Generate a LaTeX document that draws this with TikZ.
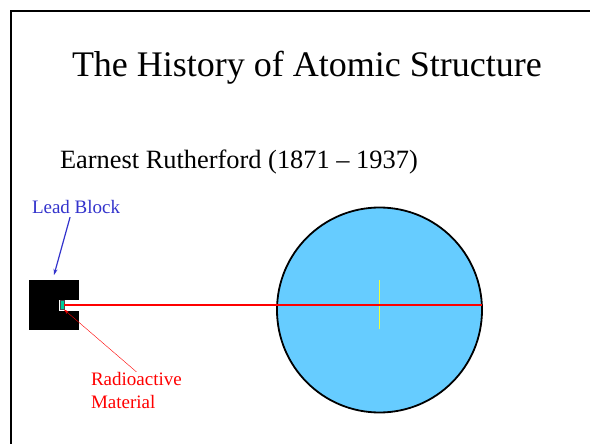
\documentclass[tikz,border=0pt]{standalone}
\usepackage{fontspec}
\setmainfont{Liberation Serif}
\usetikzlibrary{arrows.meta, positioning, calc}
\definecolor{leadblue}{RGB}{51, 51, 204}
\definecolor{foilblue}{RGB}{102, 204, 255}
\definecolor{sourcegreen}{RGB}{0, 204, 153}
\definecolor{markyellow}{RGB}{240, 255, 60}

\begin{document}
\begin{tikzpicture}[
  x=1pt, y=-1pt,
  every node/.style={inner sep=0pt, outer sep=0pt},
  heading/.style={font=\fontsize{36}{40}\selectfont, anchor=base west},
  subheading/.style={font=\fontsize{26.4}{32}\selectfont, anchor=base west},
  callout/.style={font=\fontsize{19}{23}\selectfont, align=left, anchor=base west},
  leadbox/.style={fill=black, minimum width=50pt, minimum height=50pt},
  notch/.style={fill=white, minimum width=20pt, minimum height=11pt},
  sourcebox/.style={
    fill=sourcegreen, draw=black!70, line width=0.5pt,
    minimum width=4pt, minimum height=9pt
  },
  foil/.style={circle, fill=foilblue, draw=black, line width=1.8pt, minimum size=205pt},
  beam/.style={red, line width=2.8pt},
  arrow/.style={-{Stealth[length=6pt, width=4pt]}, line width=1.2pt}
]
  \useasboundingbox (0,0) rectangle (590,444);

  % slide frame
  \draw[line width=2pt] (11,444) -- (11,11) -- (590,11);

  % titles
  \node[heading] (title) at (72,77) {The History of Atomic Structure};
  \node[subheading] (subtitle) at (60,168) {Earnest Rutherford (1871 – 1937)};

  % lead block with the source in its slot
  \node[leadbox] (block) at (54,305) {};
  \node[notch, anchor=east] (notch) at (block.east) {};
  \node[sourcebox, anchor=west] (source) at ([xshift=1pt]notch.west) {};

  % gold foil
  \node[foil] (foil) at (379.5,310) {};
  \draw[markyellow, line width=1pt] ($(foil.center)+(0,-30)$) -- ($(foil.center)+(0,19)$);

  % alpha beam
  \coordinate (beamend) at (foil.east |- source.east);
  \draw[beam] (source.east) -- (beamend);

  % labels
  \node[callout, text=leadblue] (leadlabel) at (32,213) {Lead Block};
  \node[callout, text=red] (radlabel) at (91,408) {Radioactive\\Material};

  \draw[arrow, leadblue] ([xshift=-6pt, yshift=-4pt]leadlabel.south) -- ([yshift=5pt]block.north);
  \draw[arrow, red, line width=0.4pt, -{Stealth[length=5pt, width=3pt]}] (radlabel.north) -- (source.south east);

\end{tikzpicture}
\end{document}
